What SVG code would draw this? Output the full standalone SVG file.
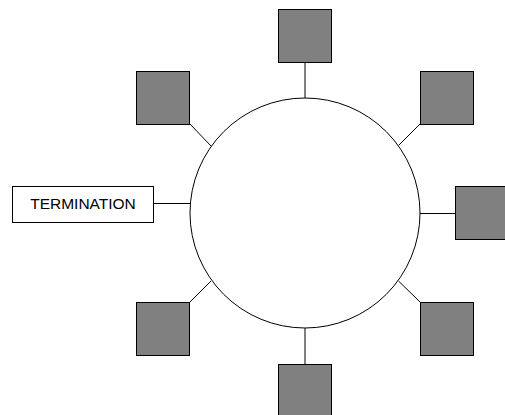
<svg xmlns="http://www.w3.org/2000/svg" width="505" height="415" viewBox="0 0 505 415">
<style>
.node rect.sq{fill:#808080;stroke:#000;stroke-width:1}
.conn line{stroke:#000;stroke-width:1}
.ring{fill:#fff;stroke:#000;stroke-width:1}
.label{font-family:"Liberation Sans",Arial,sans-serif;font-size:15.5px;fill:#000}
</style>
<rect width="505" height="415" fill="#fff"/>
<g id="connectors" class="conn">
<line x1="305" y1="62" x2="305" y2="98"/>
<line x1="305" y1="328" x2="305" y2="364"/>
<line x1="190" y1="124" x2="211" y2="146"/>
<line x1="420" y1="124" x2="398.5" y2="145.5"/>
<line x1="420" y1="213.5" x2="455" y2="213.5"/>
<line x1="190" y1="302" x2="211" y2="281"/>
<line x1="420" y1="302" x2="398.5" y2="281"/>
<line x1="154" y1="203.5" x2="190" y2="203.5"/>
</g>
<g id="ring"><circle class="ring" cx="305" cy="213" r="115"/></g>
<g id="node-top" class="node"><rect class="sq" x="278.5" y="9.5" width="53" height="53"/></g>
<g id="node-upper-left" class="node"><rect class="sq" x="136.5" y="71.5" width="53" height="53"/></g>
<g id="node-upper-right" class="node"><rect class="sq" x="420.5" y="71.5" width="53" height="53"/></g>
<g id="node-right" class="node"><rect class="sq" x="455.5" y="186.5" width="53" height="53"/></g>
<g id="node-lower-left" class="node"><rect class="sq" x="136.5" y="302.5" width="53" height="53"/></g>
<g id="node-lower-right" class="node"><rect class="sq" x="420.5" y="302.5" width="53" height="53"/></g>
<g id="node-bottom" class="node"><rect class="sq" x="278.5" y="364.5" width="53" height="53"/></g>
<g id="node-termination" class="node">
<rect x="12.5" y="186.5" width="141" height="36" fill="#fff" stroke="#000" stroke-width="1"/>
<text class="label" x="83" y="209" text-anchor="middle">TERMINATION</text>
</g>
</svg>
